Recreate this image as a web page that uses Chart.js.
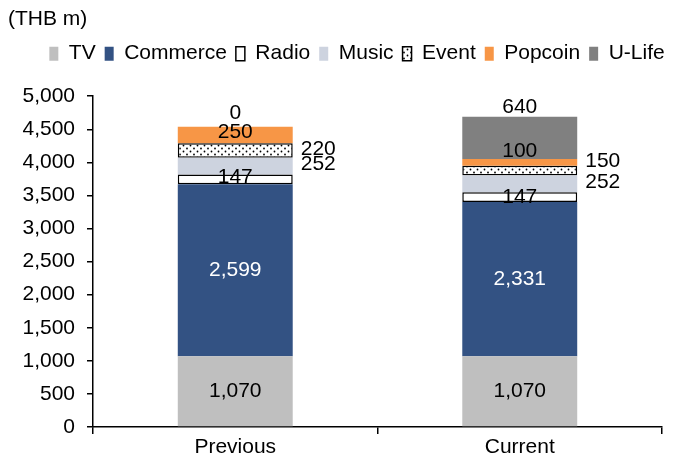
<!DOCTYPE html>
<html><head><meta charset="utf-8">
<script src="https://cdn.jsdelivr.net/npm/chart.js@4.4.1/dist/chart.umd.min.js"></script>
<style>html,body{margin:0;padding:0;background:#fff}#wrap{width:673px;height:461px;position:relative}</style>
</head><body><div id="wrap"><canvas id="c"></canvas></div>
<script>
const categories = ['Previous', 'Current'];
const tvValues = [1070, 1070];
const commerceValues = [2599, 2331];
const radioValues = [147, 147];
const musicValues = [252, 252];
const eventValues = [220, 150];
const popcoinValues = [250, 100];
const uLifeValues = [0, 640];
const yMax = 5000;
const yStep = 500;

const FONT = 'Liberation Sans, Arial, sans-serif';
const FS = 21;

function dotPattern() {
  const p = document.createElement('canvas');
  p.width = 7; p.height = 6;
  const g = p.getContext('2d');
  g.fillStyle = '#ffffff'; g.fillRect(0, 0, 7, 6);
  g.fillStyle = '#000000';
  g.beginPath(); g.arc(1.5, 1.5, 0.9, 0, Math.PI * 2); g.fill();
  g.beginPath(); g.arc(5, 4.5, 0.9, 0, Math.PI * 2); g.fill();
  return g.createPattern(p, 'repeat');
}
const fmt = v => v.toLocaleString('en-US');

// label placement: where the value label sits, and a small per-bar nudge [dx, dy]
const datasets = [
  {label: 'TV', data: tvValues, backgroundColor: '#BFBFBF', pos: 'center', lc: '#000', nudge: [[0, 0], [0, 0]]},
  {label: 'Commerce', data: commerceValues, backgroundColor: '#335283', pos: 'center', lc: '#fff', nudge: [[0, 0], [0, 0]]},
  {label: 'Radio', data: radioValues, backgroundColor: '#ffffff', borderColor: '#000', borderWidth: 1.5, pos: 'center', lc: '#000', nudge: [[0, -2], [0, 0]]},
  {label: 'Music', data: musicValues, backgroundColor: '#CDD3DF', pos: 'right', lc: '#000', nudge: [[0, -2], [0, -2]]},
  {label: 'Event', data: eventValues, backgroundColor: dotPattern(), borderColor: '#000', borderWidth: 1.5, pos: 'right', lc: '#000', nudge: [[0, -1], [0, -9]]},
  {label: 'Popcoin', data: popcoinValues, backgroundColor: '#F79646', pos: 'center', lc: '#000', nudge: [[0, -3], [0, -11]]},
  {label: 'U-Life', data: uLifeValues, backgroundColor: '#808080', pos: 'top', lc: '#000', nudge: [[0, -14], [0, -10]]}
];

const labelPlugin = {
  id: 'segLabels',
  beforeLayout(chart) {
    const lg = chart.legend;
    if (lg && !lg._patched) {
      const orig = lg.fit.bind(lg);
      lg.fit = function () { orig(); this.height += 22; };
      lg._patched = true;
    }
  },
  afterLayout(chart) {
    const lg = chart.legend;
    if (lg) { lg.left += 22; lg.right += 22; }
  },
  afterDatasetsDraw(chart) {
    const ctx = chart.ctx;
    ctx.save();
    ctx.font = FS + 'px ' + FONT;
    ctx.textBaseline = 'middle';
    chart.data.datasets.forEach((ds, i) => {
      const meta = chart.getDatasetMeta(i);
      meta.data.forEach((el, j) => {
        const p = el.getProps(['x', 'y', 'base', 'width'], true);
        let x = p.x, y = (p.y + p.base) / 2;
        ctx.textAlign = 'center';
        if (ds.pos === 'right') { x = p.x + p.width / 2 + 8; ctx.textAlign = 'left'; }
        if (ds.pos === 'top') { y = p.y; }
        x += ds.nudge[j][0]; y += ds.nudge[j][1];
        ctx.fillStyle = ds.lc;
        ctx.fillText(fmt(ds.data[j]), x, y);
      });
    });
    ctx.restore();
  }
};

new Chart(document.getElementById('c'), {
  type: 'bar',
  data: {labels: categories, datasets: datasets.map(d => Object.assign({borderWidth: 0, borderSkipped: false, categoryPercentage: 1, barPercentage: 0.404}, d))},
  options: {
    responsive: true, maintainAspectRatio: false, animation: false,
    layout: {padding: {left: 8, right: 11, top: 0, bottom: 0}},
    plugins: {
      title: {display: true, text: '(THB m)', align: 'start', color: '#000', font: {family: FONT, size: FS, weight: 'normal'}, padding: {top: 7, bottom: 2}},
      legend: {display: true, position: 'top', labels: {color: '#000', font: {family: FONT, size: FS}, boxWidth: 9, boxHeight: 14, padding: 9}},
      tooltip: {enabled: false}
    },
    scales: {
      x: {stacked: true,
        grid: {offset: true, drawOnChartArea: false, drawTicks: true, tickLength: 7, color: '#000', lineWidth: 1.5},
        border: {display: true, color: '#000', width: 1.5},
        ticks: {color: '#000', font: {family: FONT, size: FS, lineHeight: 1.0}, padding: 3}},
      y: {stacked: true, min: 0, max: yMax,
        afterFit: s => { s.width = 85; },
        grid: {drawOnChartArea: false, drawTicks: true, tickLength: 6, color: '#000', lineWidth: 1.5},
        border: {display: true, color: '#000', width: 1.5},
        ticks: {stepSize: yStep, color: '#000', font: {family: FONT, size: FS}, padding: 12, callback: v => fmt(v)}}
    }
  },
  plugins: [labelPlugin]
});
</script></body></html>
